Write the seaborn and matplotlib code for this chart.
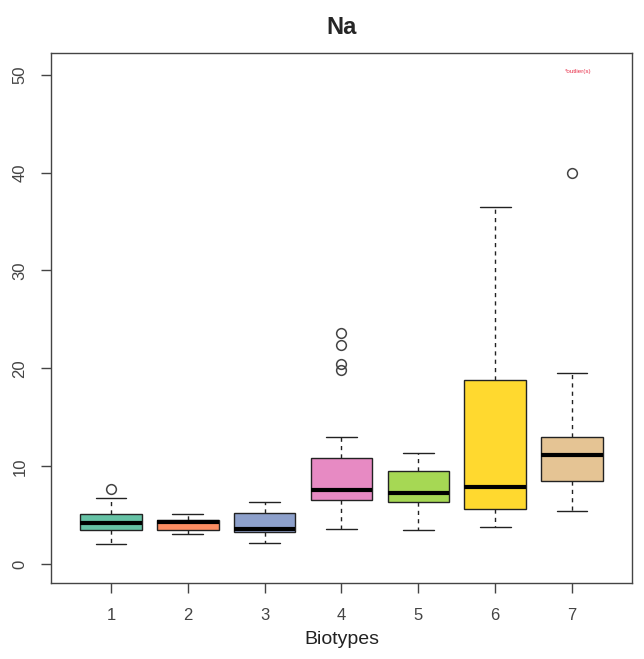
import matplotlib
matplotlib.use("Agg")
import matplotlib.pyplot as plt
import seaborn as sns
import pandas as pd

# Estimated observations per biotype (read from box/whisker/outlier positions)
biotype_1 = [2.1, 3.0, 3.5, 3.9, 4.2, 4.7, 5.1, 6.8, 7.7]
biotype_2 = [3.1, 3.4, 3.5, 3.9, 4.3, 4.4, 4.5, 4.8, 5.1]
biotype_3 = [2.2, 2.9, 3.3, 3.5, 3.6, 4.4, 5.2, 5.9, 6.4]
biotype_4 = [3.6, 4.5, 5.2, 5.8, 6.3, 6.6, 6.9, 7.1, 7.3, 7.5, 7.6, 8.0, 8.6,
             9.3, 10.2, 10.9, 13.0, 19.8, 20.5, 22.4, 23.6]
biotype_5 = [3.5, 4.8, 5.9, 6.4, 6.8, 7.1, 7.3, 7.9, 8.7, 9.5, 10.2, 10.8, 11.4]
biotype_6 = [3.8, 4.6, 5.2, 5.7, 6.5, 7.2, 7.9, 10.5, 14.0, 18.8, 24.0, 30.5, 36.5]
biotype_7 = [5.5, 6.8, 7.9, 8.5, 9.6, 10.5, 11.2, 11.8, 12.4, 13.0, 15.0, 19.5, 39.9]

categories = ["1", "2", "3", "4", "5", "6", "7"]
groups = [biotype_1, biotype_2, biotype_3, biotype_4, biotype_5, biotype_6, biotype_7]
y_ticks = [0, 10, 20, 30, 40, 50]

rows = []
for cat, vals in zip(categories, groups):
    for v in vals:
        rows.append({"Biotype": cat, "Na": v})
df = pd.DataFrame(rows)

sns.set_theme(style="ticks")
plt.rcParams["font.family"] = ["Liberation Sans", "DejaVu Sans"]

fig = plt.figure(figsize=(6.44, 6.59), dpi=100)
ax = fig.add_axes([0.0792, 0.1153, 0.9021, 0.8043])

sns.boxplot(data=df, x="Biotype", y="Na", hue="Biotype", order=categories,
            hue_order=categories, palette="Set2", legend=False, width=0.8,
            whis=1.5, saturation=1, linecolor="#222222", linewidth=1.0,
            whiskerprops=dict(linestyle=(0, (3, 3))),
            medianprops=dict(linewidth=3, color="black"),
            flierprops=dict(marker="o", markerfacecolor="none",
                            markeredgecolor="#444444", markersize=7,
                            markeredgewidth=1.1),
            ax=ax)

ax.set_xlim(-0.78, 6.78)
ax.set_ylim(-1.9, 52.2)
ax.set_yticks(y_ticks)
ax.set_yticklabels([str(t) for t in y_ticks], rotation=90, va="center")
ax.tick_params(axis="both", labelsize=12, length=7, width=1,
               color="#444444", labelcolor="#444444")
ax.tick_params(axis="x", pad=11)
ax.tick_params(axis="y", pad=10)
for s in ax.spines.values():
    s.set_visible(True)
    s.set_color("#444444")
    s.set_linewidth(1)
ax.set_ylabel("")
ax.set_xlabel("Biotypes", fontsize=14, color="#222222", labelpad=6)
ax.set_title("Na", fontsize=17, fontweight="bold", pad=14,
             family=["Liberation Sans Narrow", "Liberation Sans", "DejaVu Sans"])
ax.text(6.08, 50.3, "*outlier(s)", color="#e8304a", fontsize=4.5,
        ha="center", va="center")

fig.savefig("out.png", dpi=100)
